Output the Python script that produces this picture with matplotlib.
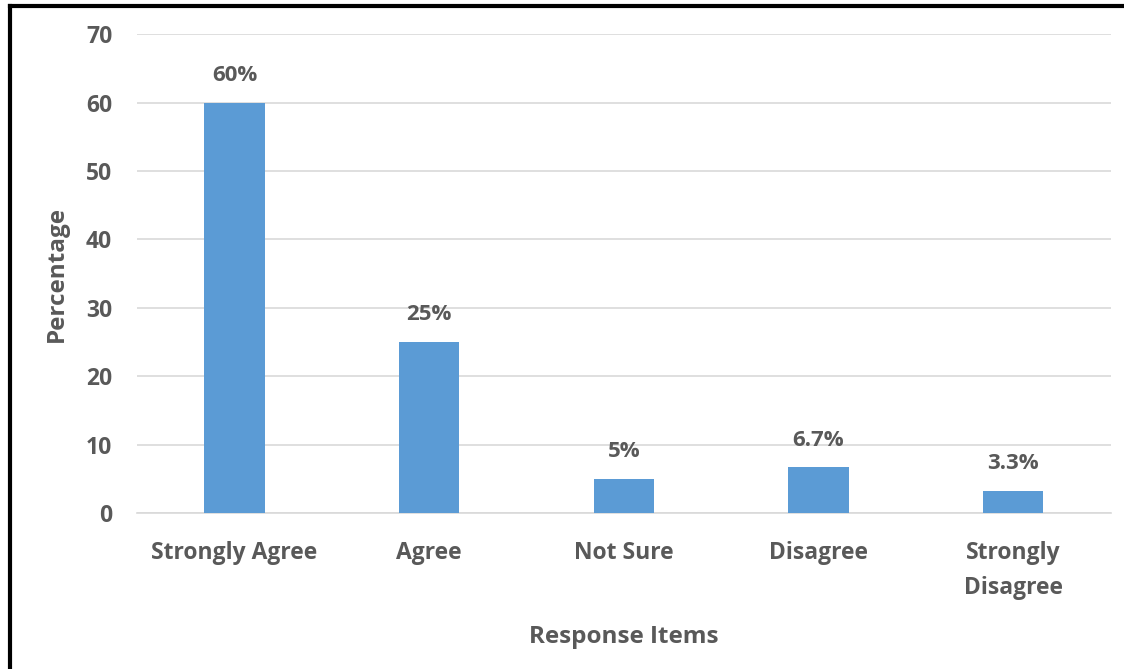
import matplotlib.pyplot as plt
from matplotlib.lines import Line2D

categories = ["Strongly Agree", "Agree", "Not Sure", "Disagree", "Strongly\nDisagree"]
values = [60, 25, 5, 6.7, 3.3]
value_labels = ["60%", "25%", "5%", "6.7%", "3.3%"]
yticks = [0, 10, 20, 30, 40, 50, 60, 70]

plt.rcParams["font.family"] = ["Open Sans", "DejaVu Sans"]
text_col = "#595959"

fig = plt.figure(figsize=(11.24, 6.69), dpi=100)
ax = fig.add_axes([0.122, 0.233, 0.866, 0.716])

x = range(len(categories))
bars = ax.bar(x, values, width=0.31, color="#5B9BD5", zorder=3)

for b, lab in zip(bars, value_labels):
    ax.annotate(lab, (b.get_x() + b.get_width() / 2, b.get_height()),
                xytext=(0, 12), textcoords="offset points",
                ha="center", va="bottom", fontsize=16, fontweight="bold",
                color=text_col)

ax.set_ylim(0, 70)
ax.set_xlim(-0.5, len(categories) - 0.5)
ax.set_yticks(yticks)
ax.set_xticks(list(x))
ax.set_xticklabels(categories, linespacing=1.6)
ax.grid(axis="y", color="#D9D9D9", linewidth=1.2, zorder=0)
for s in ["top", "right", "left"]:
    ax.spines[s].set_visible(False)
ax.spines["bottom"].set_color("#D9D9D9")
ax.spines["bottom"].set_linewidth(1.2)
ax.tick_params(length=0, labelsize=16.5, labelcolor=text_col)
ax.tick_params(axis="x", pad=20)
ax.tick_params(axis="y", pad=18)
for t in ax.get_xticklabels() + ax.get_yticklabels():
    t.set_fontweight("bold")

ax.set_ylabel("Percentage", fontsize=17.5, fontweight="bold", color=text_col, labelpad=12)
ax.set_xlabel("Response Items", fontsize=17.5, fontweight="bold", color=text_col, labelpad=18)

# frame lines along the top and left edge
fig.add_artist(Line2D([0.0085, 1.0], [0.9915, 0.9915], transform=fig.transFigure,
                      color="black", linewidth=3))
fig.add_artist(Line2D([0.0085, 0.0085], [0.0, 0.9915], transform=fig.transFigure,
                      color="black", linewidth=3))

fig.savefig("out.png", dpi=100)
